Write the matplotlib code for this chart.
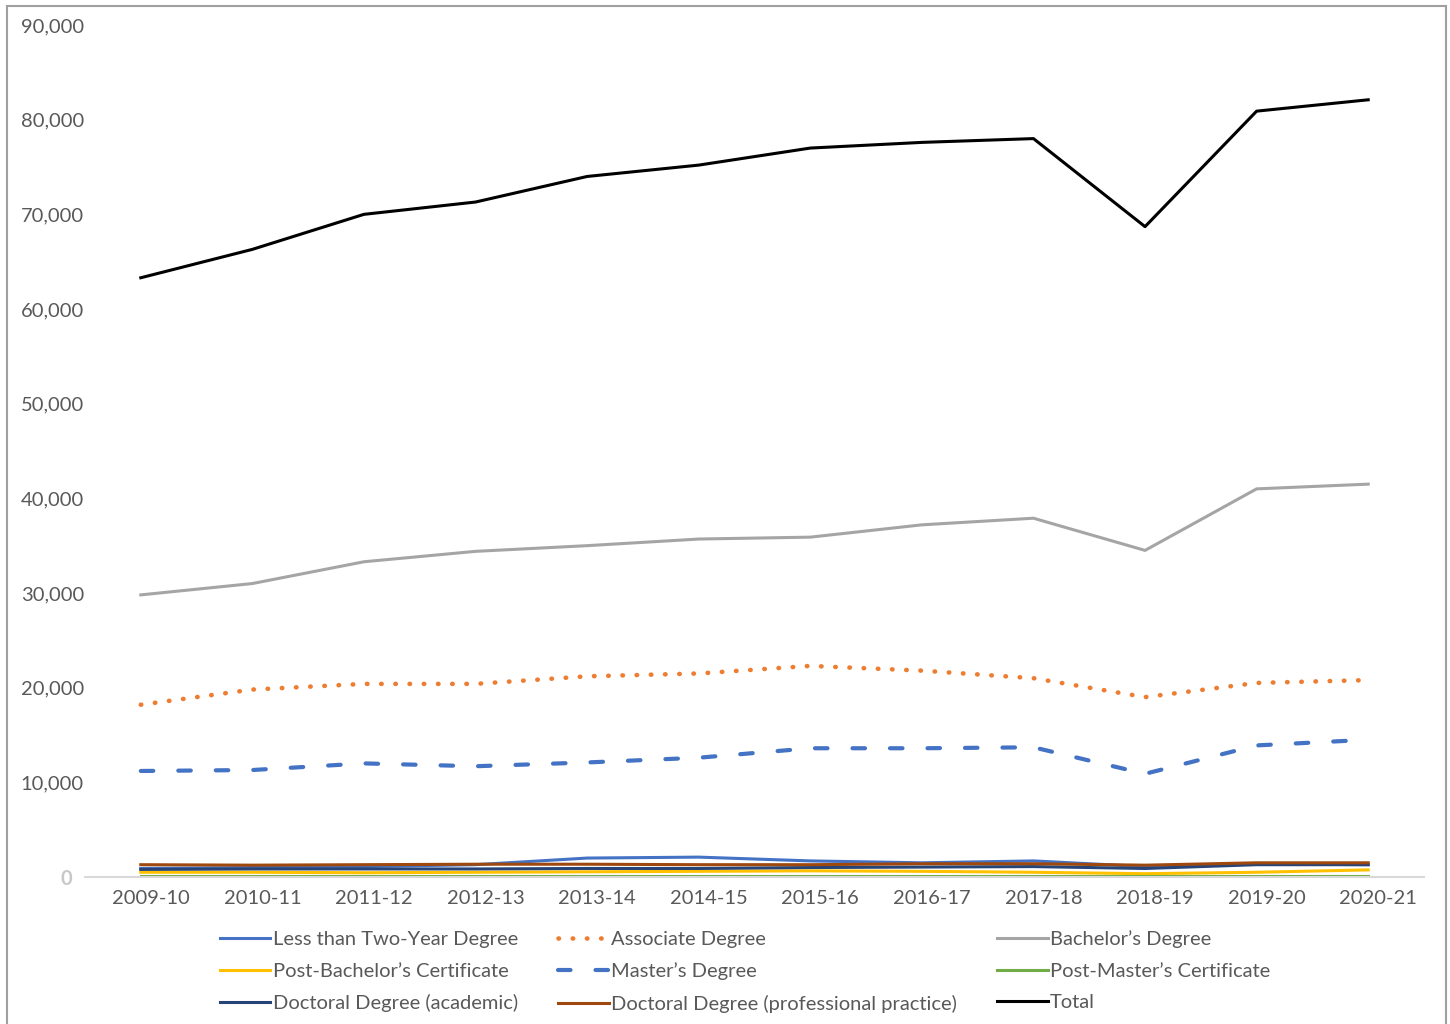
import matplotlib
matplotlib.use("Agg")
import matplotlib.pyplot as plt
from matplotlib.patches import Rectangle
from matplotlib.ticker import FuncFormatter
from matplotlib.transforms import ScaledTranslation

years = ["2009-10", "2010-11", "2011-12", "2012-13", "2013-14", "2014-15",
         "2015-16", "2016-17", "2017-18", "2018-19", "2019-20", "2020-21"]

less_two_year = [900, 1000, 1100, 1300, 2000, 2100, 1700, 1500, 1700, 1100, 1400, 1300]
associate = [18200, 19800, 20400, 20400, 21200, 21500, 22300, 21800, 21000, 19000, 20500, 20800]
bachelor = [29800, 31000, 33300, 34400, 35000, 35700, 35900, 37200, 37900, 34500, 41000, 41500]
post_bach_cert = [500, 500, 450, 500, 550, 600, 650, 600, 500, 350, 500, 750]
master = [11200, 11300, 12000, 11700, 12100, 12600, 13600, 13600, 13700, 10900, 13900, 14500]
post_master_cert = [100, 100, 100, 100, 100, 100, 100, 100, 100, 100, 100, 100]
doctoral_acad = [800, 850, 850, 850, 900, 900, 1000, 1050, 1100, 900, 1300, 1300]
doctoral_prof = [1300, 1250, 1300, 1350, 1350, 1300, 1300, 1400, 1400, 1250, 1500, 1500]
total = [63300, 66300, 70000, 71300, 74000, 75200, 77000, 77600, 78000, 68700, 80900, 82100]

plt.rcParams["font.family"] = ["Lato", "DejaVu Sans"]

fig = plt.figure(figsize=(14.5, 10.24), dpi=100)
ax = fig.add_axes([85 / 1450, 1 - 877 / 1024, (1424 - 85) / 1450, (877 - 25) / 1024])

x = list(range(len(years)))
lw = 2.2
series = [
    ("Less than Two-Year Degree", less_two_year, dict(color="#4472C4", lw=lw)),
    ("Associate Degree", associate, dict(color="#ED7D31", lw=3.3, linestyle=(0, (0.1, 3.0)),
                                         dash_capstyle="round")),
    ("Bachelor\u2019s Degree", bachelor, dict(color="#A5A5A5", lw=lw)),
    ("Post-Bachelor\u2019s Certificate", post_bach_cert, dict(color="#FFC000", lw=lw)),
    ("Master\u2019s Degree", master, dict(color="#4472C4", lw=3, linestyle=(0, (3.0, 6.0)),
                                         dash_capstyle="round")),
    ("Post-Master\u2019s Certificate", post_master_cert, dict(color="#70AD47", lw=lw)),
    ("Doctoral Degree (academic)", doctoral_acad, dict(color="#264478", lw=lw)),
    ("Doctoral Degree (professional practice)", doctoral_prof, dict(color="#9E480E", lw=lw)),
    ("Total", total, dict(color="#000000", lw=lw)),
]

handles = []
for label, vals, style in series:
    h, = ax.plot(x, vals, label=label, **style)
    handles.append(h)

ax.set_xlim(-0.5, 11.5)
ax.set_ylim(0, 90000)
ax.set_yticks(range(0, 90001, 10000))
ax.yaxis.set_major_formatter(FuncFormatter(lambda v, p: f"{int(v):,}"))
ax.set_xticks(x)
ax.set_xticklabels(years)
ax.tick_params(axis="both", length=0, labelsize=14.5, labelcolor="#595959")
ax.tick_params(axis="x", pad=9)
ax.tick_params(axis="y", pad=0)

# excel draws the category labels a little right of the points
shift = ScaledTranslation(10 / 100, 0, fig.dpi_scale_trans)
for lab in ax.get_xticklabels():
    lab.set_transform(lab.get_transform() + shift)

for lab in ax.get_yticklabels():
    lab.set_horizontalalignment("left")
    lab.set_x(-0.048)
zero = ax.get_yticklabels()[0]
zero.set_color("#c8c8c8")
zero.set_fontweight("bold")
zero.set_x(-0.018)

for side in ["top", "left", "right"]:
    ax.spines[side].set_visible(False)
ax.spines["bottom"].set_color("#d9d9d9")
ax.spines["bottom"].set_linewidth(1.5)

order = [0, 3, 6, 1, 4, 7, 2, 5, 8]
fig.legend([handles[i] for i in order], [series[i][0] for i in order],
           ncol=3, loc="upper left", bbox_to_anchor=(202 / 1450, 1 - 912 / 1024),
           frameon=False, fontsize=14.5, labelcolor="#595959",
           handlelength=2.5, handletextpad=0.12, columnspacing=2.0, labelspacing=0.72)

fig.patches.append(Rectangle((7 / 1450, -0.01), (1446 - 7) / 1450, 1.01 - 6 / 1024,
                             transform=fig.transFigure, fill=False,
                             edgecolor="#a0a0a0", linewidth=1.5))

fig.savefig("out.png", dpi=100)
